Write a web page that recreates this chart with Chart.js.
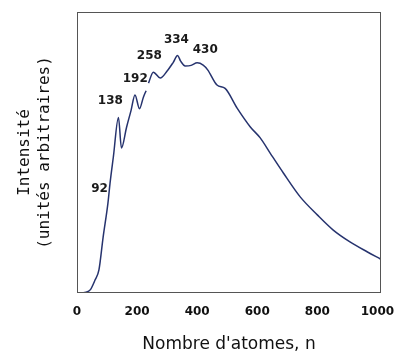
<!DOCTYPE html>
<html>
<head>
<meta charset="utf-8">
<script src="https://cdn.jsdelivr.net/npm/chart.js@4"></script>
<style>
  html, body { margin: 0; padding: 0; background: #fff; }
  #wrap { width: 400px; height: 360px; }
</style>
</head>
<body>
<div id="wrap"><canvas id="spectre" width="400" height="360"></canvas></div>
<script>
// nombre d'atomes (n) et intensité (unités arbitraires, 0-100)
const atomes = [0, 30, 44, 60, 73, 87, 103, 110, 121, 138, 148, 165, 180, 193, 208, 221, 230,
  235, 238, 254, 277, 300, 320, 335, 345, 360, 380, 400, 420, 435, 466, 493, 533, 577, 610,
  643, 687, 743, 800, 853, 910, 967, 1010];
const intensite = [0, 0.3, 1.1, 4.6, 8.2, 19.9, 32, 39.1, 48.4, 62.5, 51.6, 59, 65, 70.5, 65.6, 69.7, 72,
  null, 74.7, 78.6, 76.5, 79, 82, 84.5, 82.5, 80.8, 81, 81.9, 81.1, 79.4, 74, 72.8, 65.8, 59.1, 55.2,
  49.8, 42.7, 34.2, 27.8, 22.4, 18.1, 14.6, 12.1];

// pics repérés (étiquettes et position du texte en unités du graphique)
const picsTexte = ["92", "138", "192", "258", "334", "430"];
const picsX = [75, 111, 194, 241, 331, 427];
const picsY = [37.0, 68.3, 76.2, 84.3, 90.0, 86.5];

const xTicks = [0, 200, 400, 600, 800, 1000];

const points = atomes.map((n, i) => ({ x: n, y: intensite[i] }));

// cadre + étiquettes des pics
const cadrePics = {
  id: "cadrePics",
  afterDatasetsDraw(chart) {
    const { ctx, chartArea, scales } = chart;
    ctx.save();
    ctx.strokeStyle = "#555";
    ctx.lineWidth = 1;
    ctx.strokeRect(chartArea.left + 0.5, chartArea.top + 0.5,
      chartArea.right - chartArea.left - 1, chartArea.bottom - chartArea.top - 1);
    ctx.fillStyle = "#1a1a1a";
    ctx.font = "bold 12px 'DejaVu Sans'";
    ctx.textAlign = "center";
    ctx.textBaseline = "middle";
    picsTexte.forEach((t, i) => {
      ctx.fillText(t, scales.x.getPixelForValue(picsX[i]), scales.y.getPixelForValue(picsY[i]));
    });
    ctx.restore();
  }
};

new Chart(document.getElementById("spectre"), {
  type: "line",
  data: {
    datasets: [{
      data: points,
      borderColor: "#26336e",
      borderWidth: 1.5,
      pointRadius: 0,
      cubicInterpolationMode: "monotone",
      spanGaps: false,
      fill: false
    }]
  },
  options: {
    responsive: false,
    animation: false,
    layout: { padding: { top: 12, right: 19, left: 0, bottom: 0 } },
    plugins: { legend: { display: false }, tooltip: { enabled: false } },
    scales: {
      x: {
        type: "linear",
        min: 0,
        max: 1012,
        grid: { display: false, drawTicks: false },
        border: { display: false },
        afterBuildTicks: (s) => { s.ticks = xTicks.map(v => ({ value: v })); },
        afterFit: (s) => { s.height = 67; s.paddingRight = 0; s.paddingLeft = 0; },
        ticks: {
          padding: 12,
          color: "#111",
          font: { family: "DejaVu Sans", weight: "bold", size: 12 },
          maxRotation: 0,
          callback: (v) => String(v)
        },
        title: {
          display: true,
          text: "Nombre d'atomes, n",
          color: "#111",
          font: { family: "DejaVu Sans", size: 17 },
          padding: { top: 0, bottom: 5 }
        }
      },
      y: {
        min: 0,
        max: 100,
        grid: { display: false, drawTicks: false },
        border: { display: false },
        ticks: { display: false },
        afterFit: (s) => { s.width = 77; },
        title: {
          display: true,
          text: ["Intensité", "(unités arbitraires)"],
          color: "#111",
          font: { family: "DejaVu Sans Mono", size: 16, lineHeight: 1.25 },
          padding: { top: 15, bottom: 0 }
        }
      }
    }
  },
  plugins: [cadrePics]
});
</script>
</body>
</html>
